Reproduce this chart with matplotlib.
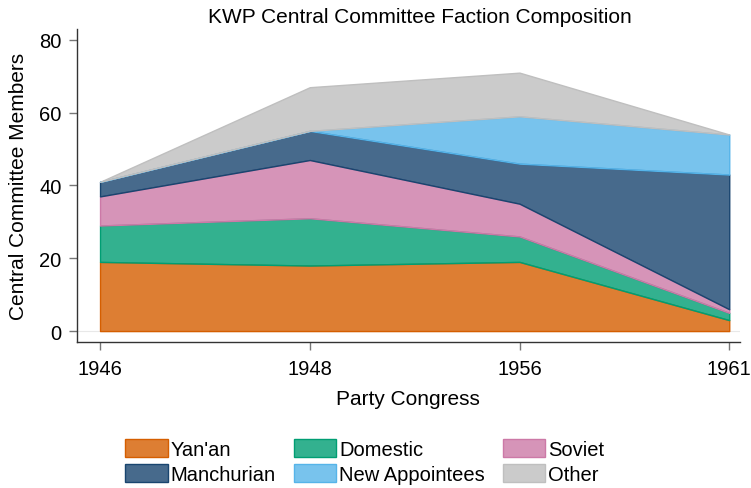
import matplotlib
matplotlib.use("Agg")
import matplotlib.pyplot as plt
import numpy as np
from matplotlib.patches import Patch

plt.rcParams['font.family'] = ['Liberation Sans', 'DejaVu Sans']

congress = ["1946", "1948", "1956", "1961"]
yanan = [19, 18, 19, 3]
domestic = [10, 13, 7, 2]
soviet = [8, 16, 9, 1]
manchurian = [4, 8, 11, 37]
new_appointees = [0, 0, 13, 11]
other = [0, 12, 12, 0]

names = ["Yan'an", "Domestic", "Soviet", "Manchurian", "New Appointees", "Other"]
series = [yanan, domestic, soviet, manchurian, new_appointees, other]
edge_colors = ["#D55E00", "#009E73", "#CC79A7", "#19456F", "#56B4E9", "#BFBFBF"]

fig = plt.figure(figsize=(7.51, 4.89), dpi=100)
ax = fig.add_axes([0.1025, 0.2986, 0.8825, 0.6401])

x = np.arange(len(congress))
base = np.zeros(len(congress))
handles = {}
for name, vals, col in zip(names, series, edge_colors):
    top = base + np.array(vals, dtype=float)
    fc = matplotlib.colors.to_rgba(col, 0.8)
    ax.fill_between(x, base, top, facecolor=fc, edgecolor=col, linewidth=1.0)
    handles[name] = Patch(facecolor=fc, edgecolor=col, linewidth=1.0)
    base = top

ax.axhline(0, color="#E8E8E8", linewidth=0.8, zorder=0)

ax.set_xlim(-0.11, 3.05)
ax.set_ylim(-3, 83)
ax.set_xticks(x)
ax.set_xticklabels(congress)
ax.set_yticks([0, 20, 40, 60, 80])
ax.tick_params(axis='both', labelsize=14.5, length=6, width=1, colors="#777777", labelcolor="black")
ax.tick_params(axis='x', pad=6)
ax.tick_params(axis='y', pad=5)
for s in ["top", "right"]:
    ax.spines[s].set_visible(False)
for s in ["left", "bottom"]:
    ax.spines[s].set_color("#333333")
    ax.spines[s].set_linewidth(1)

ax.set_xlabel("Party Congress", fontsize=15, labelpad=8)
ax.set_ylabel("Central Committee Members", fontsize=15, labelpad=8)
ax.set_title("KWP Central Committee Faction Composition", fontsize=15, pad=5, x=0.518)

order = ["Yan'an", "Manchurian", "Domestic", "New Appointees", "Soviet", "Other"]
fig.legend([handles[n] for n in order], order, loc="lower center", ncol=3,
           bbox_to_anchor=(0.486, -0.02), frameon=False, fontsize=14.5,
           handlelength=2.1, handleheight=1.0, handletextpad=0.15,
           columnspacing=0.9, labelspacing=0.25, borderpad=0.2)

fig.savefig("out.png", dpi=100)
